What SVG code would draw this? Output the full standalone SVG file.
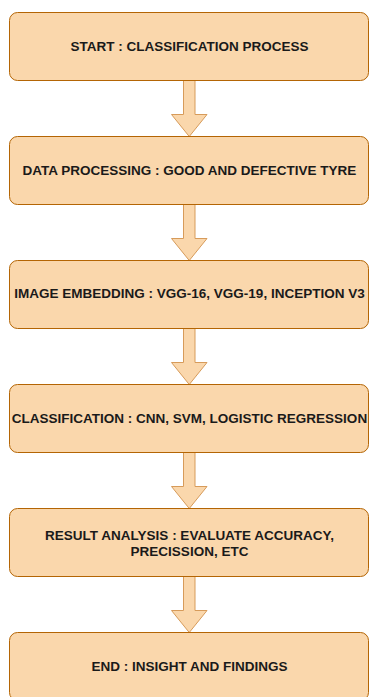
<svg xmlns="http://www.w3.org/2000/svg" width="369" height="697" viewBox="0 0 369 697">
<style>
.box{fill:#fad7ac;stroke:#b46504;stroke-width:1}
.arr{fill:#fad7ac;stroke:#d79b5a;stroke-width:1;stroke-linejoin:miter}
.lbl{font-family:"Liberation Sans",Arial,sans-serif;font-weight:bold;font-size:13.5px;fill:#1a1a1a;text-anchor:middle}
</style>
<rect width="369" height="697" fill="#ffffff"/>
<g id="connectors">
<path class="arr" d="M183.5,80.5 H195 V114.5 H207 L189.25,136.5 L171.5,114.5 H183.5 Z"/>
<path class="arr" d="M183.5,204.5 H195 V238.5 H207 L189.25,260.5 L171.5,238.5 H183.5 Z"/>
<path class="arr" d="M183.5,328.5 H195 V362.5 H207 L189.25,384.5 L171.5,362.5 H183.5 Z"/>
<path class="arr" d="M183.5,452.5 H195 V486.5 H207 L189.25,508.5 L171.5,486.5 H183.5 Z"/>
<path class="arr" d="M183.5,576.5 H195 V610.5 H207 L189.25,632.5 L171.5,610.5 H183.5 Z"/>
</g>
<g id="start">
<rect class="box" x="9.5" y="12.5" width="359" height="68" rx="8"/>
<text class="lbl" x="189.5" y="51">START : CLASSIFICATION PROCESS</text>
</g>
<g id="data-processing">
<rect class="box" x="9.5" y="136.5" width="359" height="68" rx="8"/>
<text class="lbl" x="189.5" y="175">DATA PROCESSING : GOOD AND DEFECTIVE TYRE</text>
</g>
<g id="image-embedding">
<rect class="box" x="9.5" y="260.5" width="359" height="68" rx="8"/>
<text class="lbl" x="189.5" y="297.5">IMAGE EMBEDDING : VGG-16, VGG-19, INCEPTION V3</text>
</g>
<g id="classification">
<rect class="box" x="9.5" y="384.5" width="359" height="68" rx="8"/>
<text class="lbl" x="189.5" y="423">CLASSIFICATION : CNN, SVM, LOGISTIC REGRESSION</text>
</g>
<g id="result-analysis">
<rect class="box" x="9.5" y="508.5" width="359" height="68" rx="8"/>
<text class="lbl" x="189.5" y="539.7">RESULT ANALYSIS : EVALUATE ACCURACY,</text>
<text class="lbl" x="189.5" y="556.4">PRECISSION, ETC</text>
</g>
<g id="end">
<rect class="box" x="9.5" y="632.5" width="359" height="68" rx="8"/>
<text class="lbl" x="189.5" y="671">END : INSIGHT AND FINDINGS</text>
</g>
</svg>
